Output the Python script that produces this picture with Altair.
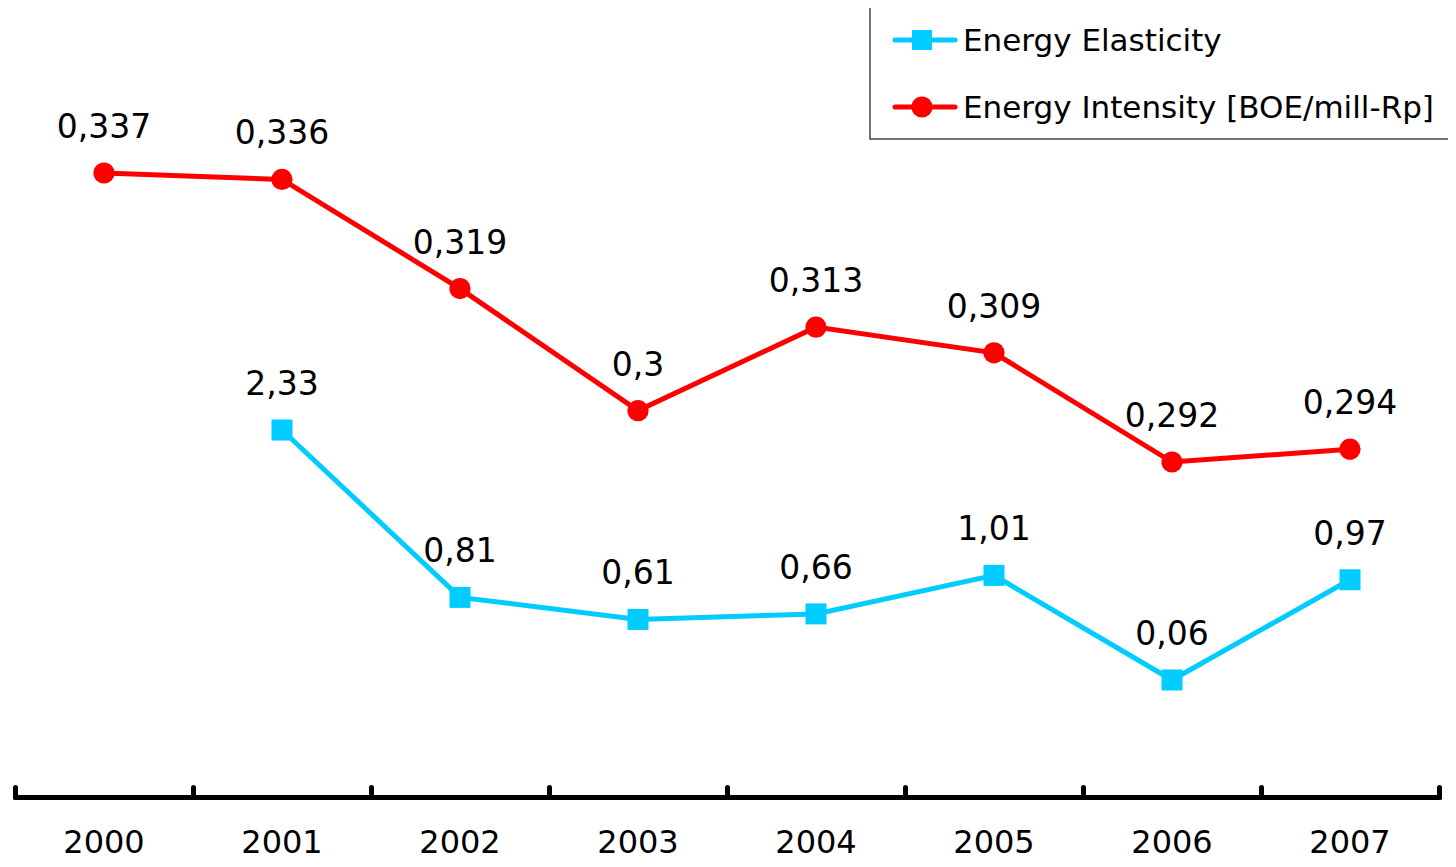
import altair as alt
import pandas as pd

# ---- data ----
years = ["2000", "2001", "2002", "2003", "2004", "2005", "2006", "2007"]
elasticity = [None, 2.33, 0.81, 0.61, 0.66, 1.01, 0.06, 0.97]
intensity = [0.337, 0.336, 0.319, 0.300, 0.313, 0.309, 0.292, 0.294]
series_names = ["Energy Elasticity", "Energy Intensity [BOE/mill-Rp]"]
series_colors = ["#00CCFF", "#FF0000"]

df = pd.DataFrame({"year": years, "elasticity": elasticity, "intensity": intensity})

FONT = "DejaVu Sans"
BLUE, RED = series_colors
W, H = 1424, 787

x_band = alt.Scale(type="band", paddingInner=0, paddingOuter=0)
x_labels = alt.X(
    "year:O", scale=x_band, bandPosition=0.5,
    axis=alt.Axis(orient="bottom", domain=False, ticks=False, tickSize=0,
                  labelPadding=30, labelFont=FONT, labelFontSize=32,
                  labelColor="black", labelAngle=0, title=None, grid=False),
)
x_ticks = alt.X(
    "year:O", scale=x_band, bandPosition=0.5,
    axis=alt.Axis(orient="top", offset=-H, labels=False, domain=True,
                  domainColor="black", domainWidth=5, domainCap="round",
                  ticks=True, tickBand="extent", tickSize=10, tickWidth=5,
                  tickColor="black", tickCap="round", title=None, grid=False),
)
x_plain = alt.X("year:O", scale=x_band, bandPosition=0.5, axis=None)

y_red = alt.Y("intensity:Q", axis=None,
              scale=alt.Scale(domain=[0.23984, 0.36238], zero=False, nice=False))
y_blue = alt.Y("elasticity:Q", axis=None,
               scale=alt.Scale(domain=[-1.0024, 6.1437], zero=False, nice=False))

base = alt.Chart(df)

red_line = base.mark_line(color=RED, strokeWidth=5).encode(x=x_labels, y=y_red)
red_pts = base.mark_circle(color=RED, size=450, opacity=1).encode(x=x_plain, y=y_red)
red_txt = base.transform_calculate(
    lbl="replace(toString(datum.intensity), '.', ',')"
).mark_text(font=FONT, fontSize=33, dy=-45, baseline="middle", color="black").encode(
    x=x_plain, y=y_red, text="lbl:N")

blue_base = base.transform_filter("isValid(datum.elasticity)")
blue_line = blue_base.mark_line(color=BLUE, strokeWidth=5).encode(x=x_ticks, y=y_blue)
blue_pts = blue_base.mark_square(color=BLUE, size=441, opacity=1).encode(x=x_plain, y=y_blue)
blue_txt = blue_base.transform_calculate(
    lbl="replace(toString(datum.elasticity), '.', ',')"
).mark_text(font=FONT, fontSize=33, dy=-45, baseline="middle", color="black").encode(
    x=x_plain, y=y_blue, text="lbl:N")

# ---- legend (drawn box) ----
one = alt.Data(values=[{"k": 0}])
leg_box = alt.Chart(one).mark_rect(fill="white", stroke="#444444", strokeWidth=1.5).encode(
    x=alt.value(855), x2=alt.value(1480), y=alt.value(-3), y2=alt.value(129))

legend_layers = [leg_box]
for name, col, ym in zip(series_names, series_colors, [30, 97]):
    legend_layers.append(alt.Chart(one).mark_rule(color=col, strokeWidth=5, strokeCap="round").encode(
        x=alt.value(880), x2=alt.value(940), y=alt.value(ym)))
    if col == BLUE:
        mk = alt.Chart(one).mark_square(color=col, size=400, opacity=1)
    else:
        mk = alt.Chart(one).mark_circle(color=col, size=450, opacity=1)
    legend_layers.append(mk.encode(x=alt.value(907), y=alt.value(ym)))
    legend_layers.append(alt.Chart(one).mark_text(
        font=FONT, fontSize=31, align="left", baseline="middle", color="black").encode(
        x=alt.value(948), y=alt.value(ym + 2), text=alt.value(name)))

chart = alt.layer(
    red_line, blue_line, red_pts, blue_pts, red_txt, blue_txt, *legend_layers
).resolve_scale(y="independent").resolve_axis(x="independent", y="independent").properties(
    width=W, height=H,
    padding={"left": 7, "top": 2, "right": 9, "bottom": 62},
    autosize=alt.AutoSizeParams(type="none"),
    background="white",
).configure_view(stroke=None)

chart.save("out.html", embed_options={"renderer": "svg", "actions": False})
